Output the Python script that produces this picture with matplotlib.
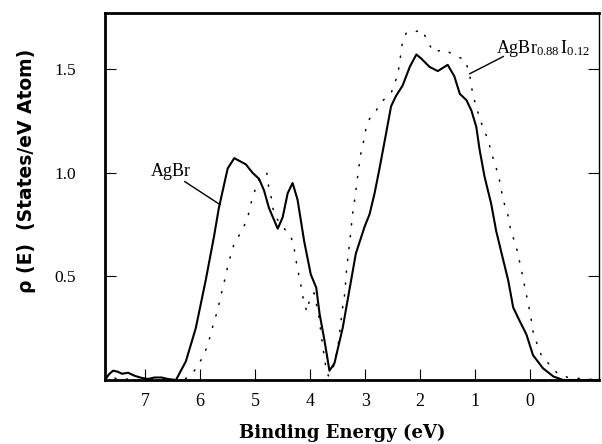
import matplotlib
matplotlib.use("Agg")
import matplotlib.pyplot as plt

plt.rcParams['mathtext.fontset'] = 'custom'
plt.rcParams['mathtext.rm'] = 'Liberation Serif'
plt.rcParams['mathtext.it'] = 'Liberation Serif:italic'

# AgBr (solid line)
agbr_energy = [7.73, 7.65, 7.58, 7.50, 7.42, 7.31, 7.19, 7.06, 6.95, 6.83, 6.70, 6.59, 6.44,
               6.26, 6.08, 5.90, 5.75, 5.66, 5.50, 5.38, 5.17, 5.05, 4.93, 4.84, 4.75, 4.59,
               4.50, 4.41, 4.32, 4.23, 4.11, 3.99, 3.89, 3.83, 3.74, 3.65, 3.56, 3.41, 3.29,
               3.17, 3.01, 2.92, 2.83, 2.74, 2.62, 2.53, 2.44, 2.32, 2.19, 2.07, 1.98, 1.83,
               1.68, 1.50, 1.38, 1.28, 1.16, 1.07, 0.98, 0.92, 0.83, 0.71, 0.62, 0.52, 0.40,
               0.31, 0.22, 0.07, -0.05, -0.23, -0.42, -0.60, -1.25]
agbr_dos = [0.0, 0.03, 0.045, 0.04, 0.03, 0.035, 0.02, 0.01, 0.005, 0.012, 0.012, 0.005, 0.0,
            0.09, 0.25, 0.48, 0.69, 0.83, 1.02, 1.07, 1.04, 1.00, 0.97, 0.915, 0.83, 0.73,
            0.785, 0.90, 0.95, 0.87, 0.67, 0.51, 0.445, 0.32, 0.19, 0.045, 0.08, 0.25, 0.43,
            0.61, 0.74, 0.80, 0.90, 1.02, 1.19, 1.32, 1.37, 1.42, 1.51, 1.57, 1.55, 1.51,
            1.49, 1.52, 1.465, 1.38, 1.35, 1.30, 1.22, 1.11, 0.98, 0.85, 0.72, 0.61, 0.48,
            0.35, 0.30, 0.22, 0.12, 0.057, 0.017, 0.0, 0.0]

# AgBr0.88 I0.12 (dotted line)
agbri_energy = [7.73, 7.60, 7.50, 7.30, 7.00, 6.50, 6.30, 6.14, 5.93, 5.84, 5.75, 5.69, 5.62,
                5.53, 5.49, 5.38, 5.24, 5.14, 5.05, 4.93, 4.79, 4.76, 4.72, 4.68, 4.64, 4.50,
                4.35, 4.30, 4.26, 4.15, 4.12, 4.06, 4.00, 3.93, 3.85, 3.78, 3.72, 3.67, 3.60,
                3.50, 3.41, 3.37, 3.34, 3.31, 3.26, 3.23, 3.18, 3.09, 3.03, 2.98, 2.92, 2.80,
                2.71, 2.59, 2.52, 2.47, 2.41, 2.37, 2.32, 2.25, 2.13, 1.98, 1.86, 1.80, 1.74,
                1.59, 1.47, 1.34, 1.19, 1.11, 1.04, 0.98, 0.92, 0.77, 0.65, 0.59, 0.54, 0.50,
                0.40, 0.355, 0.26, 0.16, 0.10, 0.00, -0.06, -0.20, -0.34, -0.50, -0.69, -1.00,
                -1.25]
agbri_dos = [0.0, 0.02, 0.0, 0.005, 0.0, 0.0, 0.0, 0.03, 0.12, 0.19, 0.28, 0.33, 0.41,
             0.51, 0.56, 0.66, 0.72, 0.78, 0.88, 0.97, 1.00, 0.94, 0.90, 0.83, 0.79, 0.74,
             0.69, 0.65, 0.58, 0.43, 0.38, 0.33, 0.40, 0.42, 0.32, 0.18, 0.07, 0.02, 0.04,
             0.15, 0.35, 0.42, 0.53, 0.60, 0.72, 0.80, 0.89, 1.08, 1.15, 1.22, 1.26, 1.30,
             1.34, 1.37, 1.39, 1.43, 1.47, 1.54, 1.635, 1.675, 1.675, 1.69, 1.635, 1.60, 1.58,
             1.595, 1.58, 1.56, 1.546, 1.485, 1.37, 1.32, 1.26, 1.16, 1.045, 1.00, 0.94, 0.875,
             0.79, 0.72, 0.65, 0.53, 0.45, 0.32, 0.22, 0.12, 0.077, 0.03, 0.012, 0.005,
             0.0]

x_ticks = [0, 1, 2, 3, 4, 5, 6, 7]
y_ticks = [0.5, 1.0, 1.5]
y_tick_labels = ["0.5", "1.0", "1.5"]

fig = plt.figure(figsize=(6.02, 4.44), dpi=100)
ax = fig.add_axes([105/602, 1-380/444, (599-105)/602, (380-13)/444])

ax.plot(agbr_energy, agbr_dos, color='black', lw=1.5, solid_joinstyle='round')
ax.plot(agbri_energy, agbri_dos, color='black', lw=1.1, linestyle=(0, (0.8, 7)),
        dash_capstyle='round')

ax.set_xlim(7.73, -1.25)
ax.set_ylim(0, 1.77)

ax.set_xticks(x_ticks)
ax.set_xticklabels([str(t) for t in x_ticks], fontfamily='Liberation Serif', fontsize=13)
ax.set_yticks(y_ticks)
ax.set_yticklabels(y_tick_labels, fontfamily='Liberation Serif', fontsize=12.5)
ax.tick_params(axis='x', direction='in', length=8, width=0.8, pad=9, top=False)
ax.tick_params(axis='y', direction='in', length=8, width=0.8, pad=21, right=True)

for side in ['left', 'bottom', 'top']:
    ax.spines[side].set_linewidth(2.0)
ax.spines['right'].set_linewidth(1.0)

# annotations
ax.text(6.53, 1.005, 'AgBr', fontfamily='Liberation Serif', fontsize=13,
        ha='center', va='center')
ax.plot([6.28, 5.64], [0.957, 0.846], color='black', lw=1.0)
ax.text(0.62, 1.577, r'AgBr$_{\mathrm{0.88}}\,$I$_{\mathrm{0.12}}$',
        fontfamily='Liberation Serif', fontsize=13, ha='left', va='baseline')
ax.plot([0.49, 1.10], [1.56, 1.477], color='black', lw=1.0)

fig.text(342/602, 1-433/444, 'Binding Energy (eV)', fontfamily='DejaVu Serif',
         fontweight='bold', fontsize=13, ha='center', va='center')
fig.text(27/602, 1-171/444, 'ρ (E)  (States/eV Atom)', fontfamily='DejaVu Sans',
         fontweight='bold', fontsize=13.5, ha='center', va='center', rotation=90)

fig.savefig('out.png', dpi=100)
